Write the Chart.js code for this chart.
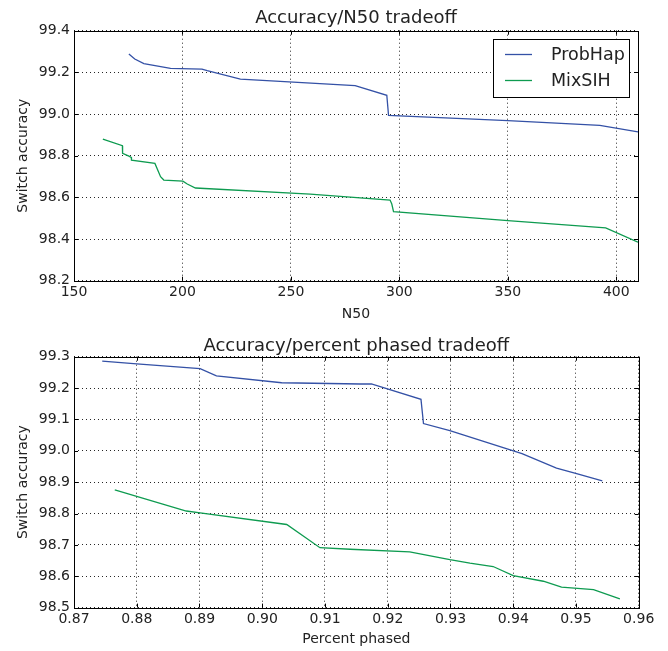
<!DOCTYPE html>
<html>
<head>
<meta charset="utf-8">
<script src="https://cdn.jsdelivr.net/npm/chart.js@4/dist/chart.umd.min.js"></script>
<style>
  body { margin: 0; background: #fff; }
  canvas { display: block; }
</style>
</head>
<body>
<canvas id="chartN50" width="668" height="326"></canvas>
<canvas id="chartPhased" width="668" height="325"></canvas>
<script>
// valores
const n50ProbHap = [175.3, 178, 182.2, 194.5, 209, 211.4, 226.7, 279.6, 294.2, 295, 350, 392.4, 410];
const accN50ProbHap = [99.288, 99.264, 99.242, 99.219, 99.216, 99.208, 99.168, 99.136, 99.090, 98.994, 98.968, 98.946, 98.914];
const n50MixSIH = [163.3, 172.3, 172.4, 175.3, 176.4, 176.5, 187.3, 189.9, 191.4, 200.2, 202.2, 206, 258.9, 295.7, 296.5, 297.3, 350, 395.1, 410];
const accN50MixSIH = [98.879, 98.848, 98.811, 98.798, 98.792, 98.779, 98.763, 98.699, 98.683, 98.678, 98.664, 98.645, 98.616, 98.587, 98.568, 98.531, 98.488, 98.454, 98.385];

const pctProbHap = [0.8745, 0.8800, 0.8901, 0.8927, 0.9031, 0.9156, 0.9174, 0.9253, 0.9257, 0.9299, 0.9414, 0.9469, 0.9501, 0.9542];
const accPctProbHap = [99.286, 99.277, 99.262, 99.239, 99.217, 99.213, 99.213, 99.164, 99.087, 99.064, 98.991, 98.945, 98.927, 98.904];
const pctMixSIH = [0.8765, 0.8879, 0.8901, 0.9039, 0.9092, 0.9140, 0.9235, 0.9299, 0.9331, 0.9368, 0.9400, 0.9448, 0.9477, 0.9528, 0.9570];
const accPctMixSIH = [98.875, 98.808, 98.802, 98.765, 98.691, 98.686, 98.678, 98.653, 98.642, 98.631, 98.602, 98.584, 98.565, 98.557, 98.528];

// ticks de los ejes
const n50Ticks = [150, 200, 250, 300, 350, 400];
const accN50Ticks = [98.2, 98.4, 98.6, 98.8, 99.0, 99.2, 99.4];
const pctTicks = [0.87, 0.88, 0.89, 0.90, 0.91, 0.92, 0.93, 0.94, 0.95, 0.96];
const accPctTicks = [98.5, 98.6, 98.7, 98.8, 98.9, 99.0, 99.1, 99.2, 99.3];

const seriesNames = ["ProbHap", "MixSIH"];
const seriesColors = ["#3451a6", "#0e9b50"];

const FONT = "'DejaVu Sans', sans-serif";

function toPoints(xs, ys) {
    return xs.map((x, i) => ({ x: x, y: ys[i] }));
}

// marco negro y ticks hacia adentro (estilo matplotlib)
const frameTicks = {
    id: "frameTicks",
    afterDatasetsDraw(chart) {
        const { ctx, chartArea: a, scales } = chart;
        const x = scales.x, y = scales.y;
        ctx.save();
        ctx.strokeStyle = "#000";
        ctx.lineWidth = 1;
        ctx.beginPath();
        x.ticks.forEach(t => {
            const px = Math.round(x.getPixelForValue(t.value)) + 0.5;
            ctx.moveTo(px, a.top); ctx.lineTo(px, a.top + 4);
            ctx.moveTo(px, a.bottom); ctx.lineTo(px, a.bottom - 4);
        });
        y.ticks.forEach(t => {
            const py = Math.round(y.getPixelForValue(t.value)) + 0.5;
            ctx.moveTo(a.left, py); ctx.lineTo(a.left + 4, py);
            ctx.moveTo(a.right, py); ctx.lineTo(a.right - 4, py);
        });
        ctx.stroke();
        ctx.strokeRect(Math.round(a.left) + 0.5, Math.round(a.top) + 0.5,
            Math.round(a.right - a.left), Math.round(a.bottom - a.top));
        ctx.restore();
    }
};

// titulo centrado sobre el area del grafico
const areaTitle = {
    id: "areaTitle",
    afterDraw(chart, args, opts) {
        const { ctx, chartArea: a } = chart;
        ctx.save();
        ctx.font = "18px " + FONT;
        ctx.fillStyle = "#222";
        ctx.textAlign = "center";
        ctx.textBaseline = "alphabetic";
        ctx.fillText(opts.text, (a.left + a.right) / 2, opts.baseline);
        ctx.restore();
    }
};

// leyenda dentro del area (arriba a la derecha)
const boxLegend = {
    id: "boxLegend",
    afterDraw(chart, args, opts) {
        if (!opts.display) return;
        const { ctx, chartArea: a } = chart;
        const w = 136, h = 58;
        const left = Math.round(a.right) - 9 - w, top = Math.round(a.top) + 8;
        ctx.save();
        ctx.fillStyle = "#fff";
        ctx.fillRect(left, top, w, h);
        ctx.strokeStyle = "#000";
        ctx.lineWidth = 1;
        ctx.strokeRect(left + 0.5, top + 0.5, w, h);
        ctx.font = "17.5px " + FONT;
        ctx.textBaseline = "middle";
        chart.data.datasets.forEach((ds, i) => {
            const cy = top + 15.5 + i * 26;
            ctx.strokeStyle = ds.borderColor;
            ctx.lineWidth = 1.3;
            ctx.beginPath();
            ctx.moveTo(left + 12, cy); ctx.lineTo(left + 39, cy);
            ctx.stroke();
            ctx.fillStyle = "#222";
            ctx.fillText(ds.label, left + 58, cy + 1);
        });
        ctx.restore();
    }
};

function makeChart(id, sets, titulo, xLabel, xOpts, yOpts, pad, legend) {
    const ctx = document.getElementById(id).getContext("2d");
    return new Chart(ctx, {
        type: "line",
        data: {
            datasets: sets.map((s, i) => ({
                label: seriesNames[i],
                data: s,
                borderColor: seriesColors[i],
                borderWidth: 1.3,
                pointRadius: 0,
                tension: 0,
                fill: false
            }))
        },
        options: {
            responsive: false,
            animation: false,
            layout: { padding: { left: 0, right: pad.right, top: pad.top, bottom: 0 } },
            plugins: {
                legend: { display: false },
                tooltip: { enabled: false },
                title: { display: false },
                areaTitle: { text: titulo, baseline: pad.titleBase },
                boxLegend: { display: legend }
            },
            scales: {
                x: Object.assign({
                    type: "linear",
                    afterFit: s => { s.height = pad.xHeight; },
                    grid: { color: "rgba(0,0,0,0.85)", lineWidth: 1, drawTicks: false },
                    border: { display: false, dash: [1, 3] },
                    title: {
                        display: true, text: xLabel, color: "#222",
                        font: { family: FONT, size: 14 },
                        padding: { top: 0, bottom: pad.xTitle }
                    }
                }, xOpts),
                y: Object.assign({
                    type: "linear",
                    afterFit: s => { s.width = 74; },
                    grid: { color: "rgba(0,0,0,0.85)", lineWidth: 1, drawTicks: false },
                    border: { display: false, dash: [1, 3] },
                    title: {
                        display: true, text: "Switch accuracy", color: "#222",
                        font: { family: FONT, size: 14 },
                        padding: { top: 14.6, bottom: 0 }
                    }
                }, yOpts)
            }
        },
        plugins: [frameTicks, areaTitle, boxLegend]
    });
}

makeChart("chartN50",
    [toPoints(n50ProbHap, accN50ProbHap), toPoints(n50MixSIH, accN50MixSIH)],
    "Accuracy/N50 tradeoff", "N50",
    {
        min: 150, max: 410,
        afterBuildTicks: s => { s.ticks = n50Ticks.map(v => ({ value: v })); },
        ticks: { color: "#222", padding: 3, maxRotation: 0, autoSkip: false,
            font: { family: FONT, size: 14 } }
    },
    {
        min: 98.2, max: 99.4,
        afterBuildTicks: s => { s.ticks = accN50Ticks.map(v => ({ value: v })); },
        ticks: { color: "#222", padding: 4, font: { family: FONT, size: 14 },
            callback: v => v.toFixed(1) }
    },
    { right: 30, top: 30.7, titleBase: 23, xHeight: 45.3, xTitle: 3.6 },
    true);

makeChart("chartPhased",
    [toPoints(pctProbHap, accPctProbHap), toPoints(pctMixSIH, accPctMixSIH)],
    "Accuracy/percent phased tradeoff", "Percent phased",
    {
        min: 0.87, max: 0.96,
        afterBuildTicks: s => { s.ticks = pctTicks.map(v => ({ value: v })); },
        ticks: { color: "#222", padding: 3, maxRotation: 0, autoSkip: false,
            font: { family: FONT, size: 14 }, callback: v => v.toFixed(2) }
    },
    {
        min: 98.5, max: 99.3,
        afterBuildTicks: s => { s.ticks = accPctTicks.map(v => ({ value: v })); },
        ticks: { color: "#222", padding: 4, font: { family: FONT, size: 14 },
            callback: v => v.toFixed(1) }
    },
    { right: 29.3, top: 30.7, titleBase: 24.5, xHeight: 43.4, xTitle: 2.8 },
    false);
</script>
</body>
</html>
